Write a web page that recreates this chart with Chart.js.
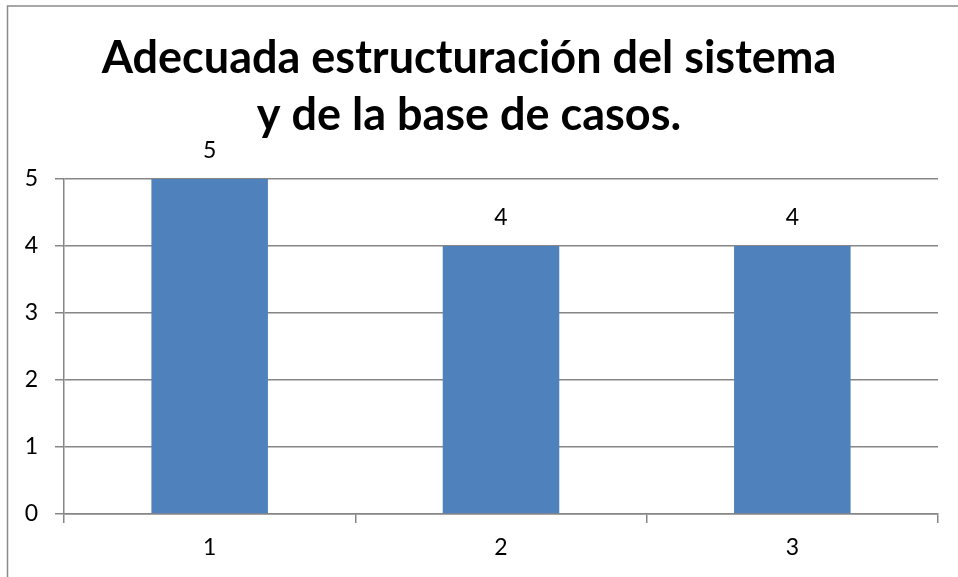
<!DOCTYPE html>
<html>
<head>
<meta charset="utf-8">
<script src="https://cdn.jsdelivr.net/npm/chart.js@4"></script>
<style>
  html, body { margin: 0; padding: 0; background: #fff; }
  #wrap { width: 958px; height: 577px; position: relative; }
</style>
</head>
<body>
<div id="wrap"><canvas id="chart"></canvas></div>
<script>
const categories = ["1", "2", "3"];
const values = [5, 4, 4];
const yTicks = [0, 1, 2, 3, 4, 5];
const titleLines = ["Adecuada estructuración del sistema", "y de la base de casos."];

const gridGray = '#868686';

// frame lines at left and top, like the cropped chart border
const framePlugin = {
    id: 'frame',
    beforeDraw(chart) {
        const ctx = chart.ctx;
        ctx.save();
        ctx.strokeStyle = '#8a8a8a';
        ctx.lineWidth = 1.5;
        ctx.beginPath();
        ctx.moveTo(7.5, chart.height);
        ctx.lineTo(7.5, 6);
        ctx.lineTo(chart.width, 6);
        ctx.stroke();
        ctx.restore();
    }
};

// value labels above bars
const valueLabels = {
    id: 'valueLabels',
    afterDatasetsDraw(chart) {
        const ctx = chart.ctx;
        const meta = chart.getDatasetMeta(0);
        ctx.save();
        ctx.font = '23px Lato';
        ctx.fillStyle = '#000';
        ctx.textAlign = 'center';
        ctx.textBaseline = 'middle';
        meta.data.forEach((bar, i) => {
            ctx.fillText(String(values[i]), bar.x, bar.y - 28);
        });
        ctx.restore();
    }
};

let ctx = document.getElementById('chart');

new Chart(ctx, {
    type: 'bar',
    data: {
        labels: categories,
        datasets: [
            {
                data: values,
                backgroundColor: '#4F81BD',
                borderWidth: 0,
                barPercentage: 0.4,
                categoryPercentage: 1
            }
        ]
    },
    options: {
        responsive: true,
        maintainAspectRatio: false,
        animation: false,
        layout: { padding: { left: 0, right: 20, top: 0, bottom: 0 } },
        plugins: {
            legend: { display: false },
            tooltip: { enabled: false },
            title: {
                display: true,
                text: titleLines,
                color: '#000',
                font: { family: 'Lato', size: 45, weight: 'bold', lineHeight: 1.267 },
                padding: { top: 30, bottom: 35 }
            }
        },
        scales: {
            x: {
                grid: {
                    drawOnChartArea: false,
                    drawTicks: true,
                    tickLength: 9,
                    color: gridGray,
                    lineWidth: 1.5,
                    offset: true
                },
                border: { display: true, color: gridGray, width: 1.5 },
                ticks: {
                    color: '#000',
                    font: { family: 'Lato', size: 23 },
                    padding: 11
                },
                afterFit(scale) { scale.height = 63; }
            },
            y: {
                min: 0,
                max: 5,
                afterBuildTicks(scale) { scale.ticks = yTicks.map(v => ({ value: v })); },
                grid: {
                    color: gridGray,
                    lineWidth: 1.5,
                    tickLength: 9
                },
                border: { display: true, color: gridGray, width: 1.5 },
                ticks: {
                    color: '#000',
                    font: { family: 'Lato', size: 23 },
                    padding: 17
                },
                afterFit(scale) { scale.width = 64; }
            }
        }
    },
    plugins: [framePlugin, valueLabels]
});
</script>
</body>
</html>
